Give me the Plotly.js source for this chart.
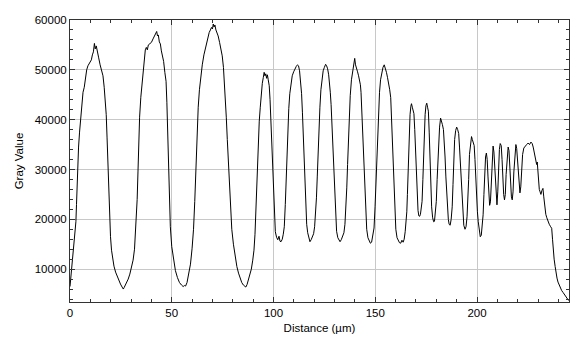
<!DOCTYPE html>
<html>
<head>
<meta charset="utf-8">
<script src="https://cdn.plot.ly/plotly-3.0.1.min.js"></script>
<style>
  html, body { margin: 0; padding: 0; background: #ffffff; }
  #chart { width: 581px; height: 339px; }
</style>
</head>
<body>
<div id="chart"></div>
<script>
// Distance along the profile line (µm)
const distance = [
  0, 0.3, 0.6, 1.0, 1.5, 2.0, 2.5, 2.9, 3.2, 3.5, 3.8, 4.2, 4.7, 5.2, 5.8, 6.4, 7.0, 7.6, 8.2, 8.8, 9.4, 10.0, 10.5, 11.0, 11.5, 12.0, 12.4, 12.9, 13.4, 14.1, 14.8, 15.5, 16.2, 16.8, 17.4, 17.8, 18.2, 18.6, 19.0, 19.4, 19.9, 20.4, 20.9, 21.6, 22.4, 23.2, 24.0, 24.8, 25.6, 26.2, 26.6,
  27.2, 27.9, 28.6, 29.4, 30.2, 31.0, 31.7, 32.2, 32.6, 33.0, 33.4, 33.8, 34.2, 34.8, 35.4, 35.9, 36.5, 37.0, 37.5, 38.0, 38.5, 39.2, 40.0, 40.8, 41.5, 42.1, 42.6, 43.0, 43.4, 43.9, 44.4, 44.9, 45.5, 46.0, 46.6, 47.2, 47.6, 48.0, 48.4, 48.8, 49.3, 50.0, 50.8, 51.8, 52.8, 53.8, 54.8, 55.6, 56.2, 56.8,
  57.5, 58.3, 59.2, 60.0, 60.7, 61.3, 61.9, 62.4, 63.0, 63.6, 64.2, 65.0, 65.8, 66.5, 67.2, 67.8, 68.4, 69.0, 69.5, 70.0, 70.4, 70.8, 71.2, 71.7, 72.2, 72.8, 73.5, 74.2, 74.8, 75.4, 75.9, 76.3, 76.8, 77.3, 77.8, 78.3, 78.8, 79.5, 80.3, 81.2, 82.0, 82.8, 83.6, 84.4, 85.2, 85.8, 86.4, 87.0,
  87.7, 88.4, 89.1, 89.8, 90.4, 90.9, 91.3, 91.7, 92.1, 92.5, 93.0, 93.5, 94.0, 94.5, 95.0, 95.4, 95.8, 96.2, 96.6, 97.0, 97.4, 97.9, 98.3, 98.7, 99.1, 99.6, 100.0, 100.4, 100.9, 101.5, 102.1, 102.7, 103.2, 103.7, 104.3, 104.8,
  105.3, 105.8, 106.2, 106.6, 107.0, 107.5, 108.0, 108.6, 109.2, 109.9, 110.6, 111.2, 111.8, 112.3, 112.8, 113.3, 113.8, 114.2, 114.6, 115.0, 115.4, 115.8, 116.3, 116.8, 117.3, 117.9, 118.5, 119.1, 119.7, 120.2,
  120.7, 121.1, 121.5, 121.9, 122.3, 122.8, 123.3, 123.8, 124.4, 125.0, 125.6, 126.1, 126.6, 127.1, 127.5, 127.9, 128.3, 128.7, 129.1, 129.5, 129.9, 130.4, 131.0, 131.6, 132.2, 132.7, 133.3, 133.9, 134.6, 135.1,
  135.6, 136.0, 136.4, 136.8, 137.2, 137.7, 138.3, 138.9, 139.5, 139.9, 140.3, 140.8, 141.3, 141.8, 142.3, 142.7, 143.0, 143.4, 143.8, 144.1, 144.5, 144.9, 145.3, 145.8, 146.4, 147.0, 147.6, 148.2, 148.8, 149.4,
  149.9, 150.3, 150.7, 151.1, 151.6, 152.1, 152.6, 153.2, 153.8, 154.4, 154.9, 155.5, 156.0, 156.5, 157.1, 157.6, 158.0, 158.4, 158.8, 159.2, 159.6, 160.1, 160.7, 161.3, 161.9, 162.5, 163.1, 163.7, 164.2, 164.7, 165.1,
  165.5, 165.8, 166.1, 166.4, 166.7, 167.1, 167.5, 167.8, 168.2, 168.6, 169.0, 169.4, 169.8, 170.2, 170.6, 171.0, 171.4, 171.8, 172.2, 172.6, 173.0, 173.4, 173.8, 174.1, 174.5, 174.9, 175.3, 175.7, 176.1, 176.5, 176.9, 177.3, 177.7, 178.2, 178.7, 179.1, 179.6,
  180.0, 180.4, 180.8, 181.2, 181.6, 182.1, 182.5, 183.0, 183.5, 183.9, 184.3, 184.7, 185.1, 185.5, 185.9, 186.3, 186.8, 187.3, 187.8, 188.2, 188.6, 189.0, 189.5, 190.0, 190.5, 191.0, 191.4, 191.8, 192.2, 192.6, 193.0, 193.5, 194.1, 194.6, 195.1,
  195.5, 195.9, 196.3, 196.8, 197.3, 197.7, 198.2, 198.6, 199.0, 199.4, 199.8, 200.2, 200.6, 201.1, 201.6, 202.1, 202.6, 203.0, 203.4, 203.8, 204.2, 204.6, 205.0, 205.4, 205.8, 206.2, 206.6, 207.0, 207.4, 207.9, 208.3, 208.7, 209.1, 209.5, 209.8,
  210.2, 210.6, 211.0, 211.4, 211.9, 212.3, 212.7, 213.1, 213.5, 213.9, 214.3, 214.8, 215.3, 215.7, 216.1, 216.5, 216.9, 217.3, 217.7, 218.1, 218.6, 219.1, 219.5, 219.9, 220.3, 220.7, 221.1, 221.5, 221.9,
  222.4, 223.0, 223.7, 224.4, 225.1, 225.8, 226.5, 227.1, 227.6, 228.1, 228.6, 229.0, 229.3, 229.6, 229.9, 230.2, 230.6, 231.0, 231.4, 231.9, 232.4, 232.8, 233.3, 233.8, 234.3, 234.9, 235.5, 236.2, 236.7, 237.1, 237.5, 237.9, 238.4, 238.8, 239.3, 239.8, 240.4, 241.0, 241.6, 242.3, 243.0, 243.7, 244.4, 245.0
];

// Gray value read at each distance
const grayValue = [
  6500, 8000, 9800, 10500, 13000, 15500, 17500, 19500, 23000, 27000, 31000, 34500, 37500, 40500, 42500, 45500, 46500, 48500, 50000, 50800, 51200, 51500, 52000, 53000, 53600, 55300, 54200, 54800, 53500, 52400, 51000, 49800, 48800, 46500, 44000, 41000, 36500, 31000, 25500, 20500, 16500, 13800, 12000, 10600, 9400, 8500, 7700, 7000, 6400, 6000, 6300,
  6800, 7400, 8000, 9000, 10300, 11800, 14000, 17000, 19800, 24000, 29500, 35500, 40500, 44500, 47500, 49800, 52500, 54000, 54500, 54000, 55000, 55300, 55500, 56200, 56800, 57300, 57700, 56800, 57000, 55600, 55200, 53800, 52800, 51700, 49500, 47700, 43500, 37700, 30500, 23600, 18500, 14500, 12000, 9700, 8300, 7300, 6800, 6500, 6700, 6600,
  7300, 8800, 11000, 14200, 18000, 23600, 30500, 37700, 42500, 46000, 48800, 51000, 53000, 54200, 55500, 56800, 57500, 58000, 58500, 58200, 59200, 58600, 59000, 58000, 57500, 56800, 55500, 54200, 52800, 50500, 47500, 44400, 40500, 36000, 31500, 27000, 22300, 18000, 15000, 12500, 10500, 9200, 8200, 7300, 6800, 6500, 6400, 6900,
  7800, 8800, 10000, 11800, 13800, 17000, 21500, 27000, 32500, 36500, 39700, 42500, 45500, 47300, 48500, 49500, 48800, 49200, 48300, 49000, 48000, 46800, 44000, 39500, 35000, 30500, 24500, 20000, 17500, 16400, 15900, 16600, 15600, 15500, 16000, 17000,
  18500, 23000, 28000, 33500, 38000, 42200, 45200, 47500, 48800, 49600, 50400, 50700, 51000, 50800, 49800, 48000, 45200, 41500, 36500, 31500, 27000, 22500, 19000, 17300, 16200, 15500, 15900, 16500, 17100, 18500,
  21000, 24300, 28500, 33500, 37700, 42500, 46000, 48400, 49800, 50500, 51100, 50800, 50200, 49000, 47800, 45500, 43000, 39000, 34000, 29500, 25000, 20800, 17600, 16300, 15700, 15500, 15900, 16500, 17300, 19000,
  22500, 26300, 31000, 36500, 41000, 44800, 48000, 50000, 51200, 52300, 51000, 50000, 49600, 48800, 48000, 47000, 45500, 41500, 37500, 34300, 29500, 25000, 21000, 18000, 16300, 15700, 15200, 15400, 16500, 18250,
  22500, 27000, 31500, 37000, 42000, 45500, 48000, 49800, 50500, 51000, 50500, 49500, 48500, 47600, 46000, 44400, 40500, 36500, 32000, 26500, 21500, 18000, 16300, 15700, 15300, 15200, 15800, 15400, 16000, 17500, 19000,
  21500, 25000, 29500, 33500, 38000, 41000, 42700, 43200, 42500, 42000, 41200, 38000, 34300, 29000, 24500, 21800, 20700, 20600, 21000, 22000, 23600, 28000, 33500, 37700, 41000, 42800, 43300, 42500, 41700, 37500, 31500, 26500, 22500, 20300, 19500, 19600, 21200,
  23600, 28000, 32500, 36000, 38500, 40300, 39800, 39000, 38000, 36000, 32500, 28500, 24500, 21500, 20000, 19000, 18800, 20000, 22500, 27000, 32500, 36000, 37800, 38500, 38000, 37200, 34500, 31000, 27500, 23500, 20500, 18800, 18000, 18500, 20500,
  23500, 28000, 33000, 35500, 36600, 36000, 35500, 34800, 32000, 27600, 24000, 21500, 19500, 17500, 16500, 16800, 18500, 20900, 25000, 29500, 32500, 33300, 32000, 28500, 25000, 22800, 23500, 27500, 31500, 34700, 33500, 30000, 26000, 23500, 22900,
  25500, 30500, 34000, 35200, 34800, 32000, 28000, 25000, 23900, 25000, 29000, 33000, 34500, 33800, 30500, 27000, 24500, 23900, 25500, 29500, 33500, 35000, 34200, 31500, 28500, 26000, 25300, 26500, 30000,
  33000, 34300, 34800, 35000, 35300, 35000, 35500, 35200, 34500, 33500, 32500, 31800, 31000, 31500, 29000, 27000, 26000, 25500, 25000, 25800, 26200, 24500, 22500, 21000, 20300, 19500, 19000, 18500, 18200, 16000, 13500, 12000, 10500, 9000, 8200, 7400, 6700, 6100, 5700, 5300, 4900, 4500, 4100, 3700
];

// Axis tick labels
const xTickVals = [0, 50, 100, 150, 200];
const xTickText = ['0', '50', '100', '150', '200'];
const yTickVals = [10000, 20000, 30000, 40000, 50000, 60000];
const yTickText = ['10000', '20000', '30000', '40000', '50000', '60000'];

const axisColor = '#333333';
const gridColor = '#c8c8c8';

const trace = {
  x: distance,
  y: grayValue,
  type: 'scatter',
  mode: 'lines',
  line: { color: '#000000', width: 1 },
  hoverinfo: 'x+y'
};

const layout = {
  width: 581,
  height: 339,
  margin: { l: 70, r: 12, t: 20, b: 37, pad: 0 },
  paper_bgcolor: '#ffffff',
  plot_bgcolor: '#ffffff',
  showlegend: false,
  font: { family: 'Liberation Sans, Arial, sans-serif', size: 11.5, color: '#000000' },
  xaxis: {
    range: [0, 245.2],
    tickmode: 'array',
    tickvals: xTickVals,
    ticktext: xTickText,
    ticks: 'inside',
    ticklen: 5,
    tickwidth: 1,
    tickcolor: axisColor,
    mirror: 'allticks',
    showline: true,
    linecolor: axisColor,
    linewidth: 1,
    showgrid: true,
    gridcolor: gridColor,
    gridwidth: 1,
    zeroline: false,
    automargin: false,
    tickfont: { size: 11.5, color: '#000000' },
    minor: { dtick: 10, tick0: 0, ticks: 'inside', ticklen: 3, tickcolor: axisColor, showgrid: false },
    title: { text: 'Distance (µm)', font: { size: 11.5, color: '#000000' }, standoff: 6 }
  },
  yaxis: {
    range: [3400, 60000],
    tickmode: 'array',
    tickvals: yTickVals,
    ticktext: yTickText,
    ticks: 'inside',
    ticklen: 5,
    tickwidth: 1,
    tickcolor: axisColor,
    mirror: 'allticks',
    showline: true,
    linecolor: axisColor,
    linewidth: 1,
    showgrid: true,
    gridcolor: gridColor,
    gridwidth: 1,
    zeroline: false,
    automargin: false,
    tickfont: { size: 11.5, color: '#000000' },
    minor: { dtick: 2000, tick0: 0, ticks: 'inside', ticklen: 3, tickcolor: axisColor, showgrid: false },
    title: { text: 'Gray Value', font: { size: 11.5, color: '#000000' }, standoff: 8 }
  }
};

Plotly.newPlot('chart', [trace], layout, { displayModeBar: false, staticPlot: true });
</script>
</body>
</html>
